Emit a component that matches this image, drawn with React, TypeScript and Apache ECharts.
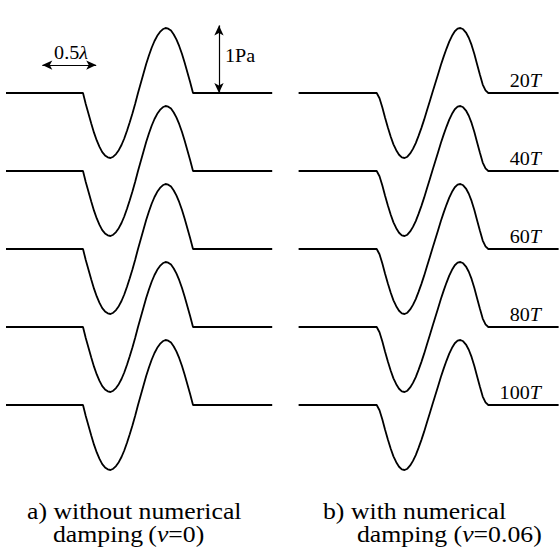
import React, { useEffect, useRef } from "react";
import * as echarts from "echarts";

// Phase positions across one wavelength of the pulse (in units of λ)
const PHASE = [
  0, 0.025, 0.05, 0.075, 0.1, 0.125, 0.15, 0.175, 0.2, 0.225,
  0.25, 0.275, 0.3, 0.325, 0.35, 0.375, 0.4, 0.425, 0.45, 0.475,
  0.5, 0.525, 0.55, 0.575, 0.6, 0.625, 0.65, 0.675, 0.7, 0.725,
  0.75, 0.775, 0.8, 0.825, 0.85, 0.875, 0.9, 0.925, 0.95, 0.975, 1.0,
];

// Pressure (Pa) of the pulse without numerical damping (ν = 0)
const PULSE_UNDAMPED = [
  0, -0.17, -0.32, -0.47, -0.61, -0.73, -0.83, -0.91, -0.96, -0.99,
  -1.0, -0.98, -0.94, -0.88, -0.8, -0.7, -0.58, -0.45, -0.31, -0.16,
  0.0, 0.15, 0.3, 0.45, 0.58, 0.7, 0.8, 0.88, 0.94, 0.98,
  1.0, 0.99, 0.96, 0.9, 0.82, 0.72, 0.6, 0.46, 0.31, 0.16, 0,
];

// Pressure (Pa) of the pulse with numerical damping (ν = 0.06)
const PULSE_DAMPED = [
  0, -0.08, -0.22, -0.38, -0.53, -0.67, -0.79, -0.88, -0.95, -0.99,
  -1.0, -0.98, -0.93, -0.86, -0.77, -0.66, -0.54, -0.41, -0.27, -0.13,
  0.01, 0.15, 0.29, 0.43, 0.56, 0.68, 0.79, 0.88, 0.95, 0.99,
  1.0, 0.98, 0.93, 0.85, 0.74, 0.6, 0.44, 0.28, 0.13, 0.04, 0,
];

// Snapshot times, one row each
const TIMES = ["20", "40", "60", "80", "100"];

// Extent of the undisturbed medium on each side (λ)
const LEFT_RANGE = [-0.7, 1.72];
const RIGHT_RANGE = [-0.7, 1.63];

const ROW_GAP = 1.2; // Pa between stacked rows
const FONT = "Liberation Serif";

function rowData(pulse: number[], range: number[], k: number) {
  const off = -k * ROW_GAP;
  const pts: number[][] = [[range[0], off]];
  PHASE.forEach((p, i) => pts.push([p, pulse[i] + off]));
  pts.push([range[1], off]);
  return pts;
}

export default function App() {
  const ref = useRef<HTMLDivElement>(null);

  useEffect(() => {
    if (!ref.current) return;
    const chart = echarts.init(ref.current, null, { renderer: "svg" });

    const lineStyle = { color: "#000", width: 1.8 };
    const series: any[] = [];
    TIMES.forEach((_, k) => {
      const s: any = {
        type: "line",
        xAxisIndex: 0,
        yAxisIndex: 0,
        data: rowData(PULSE_UNDAMPED, LEFT_RANGE, k),
        showSymbol: false,
        symbol: "none",
        lineStyle,
        clip: false,
        silent: true,
      };
      if (k === 0) {
        s.markLine = {
          silent: true,
          symbol: ["arrow", "arrow"],
          symbolSize: [7, 10],
          label: { show: false },
          lineStyle: { color: "#000", width: 1.2, type: "solid" },
          data: [
            [{ coord: [-0.37, 0.43] }, { coord: [0.12, 0.43] }],
            [{ coord: [1.236, 0.0] }, { coord: [1.236, 1.04] }],
          ],
        };
      }
      series.push(s);
      series.push({
        type: "line",
        xAxisIndex: 1,
        yAxisIndex: 1,
        data: rowData(PULSE_DAMPED, RIGHT_RANGE, k),
        showSymbol: false,
        symbol: "none",
        lineStyle,
        clip: false,
        silent: true,
      });
    });

    const hiddenAxis = {
      type: "value",
      show: false,
      splitLine: { show: false },
    };

    chart.setOption({
      animation: false,
      backgroundColor: "#fff",
      textStyle: { fontFamily: FONT },
      grid: [
        { left: 6, top: 21.5, width: 266.2, height: 455 },
        { left: 298.6, top: 21.5, width: 260, height: 455 },
      ],
      xAxis: [
        { ...hiddenAxis, gridIndex: 0, min: LEFT_RANGE[0], max: LEFT_RANGE[1] },
        { ...hiddenAxis, gridIndex: 1, min: RIGHT_RANGE[0], max: RIGHT_RANGE[1] },
      ],
      yAxis: [
        { ...hiddenAxis, gridIndex: 0, min: -5.9, max: 1.1 },
        { ...hiddenAxis, gridIndex: 1, min: -5.9, max: 1.1 },
      ],
      series,
    });

    const labelRich = {
      n: { fontFamily: FONT, fontSize: 19, fill: "#000" },
      i: { fontFamily: FONT, fontSize: 19, fontStyle: "italic", fill: "#000" },
    };

    // Time labels above the right end of each damped row
    const timeLabels = TIMES.map((t, k) => {
      const [px, py] = chart.convertToPixel({ gridIndex: 1 } as any, [1.472, -k * ROW_GAP]) as number[];
      return {
        type: "text",
        x: px,
        y: py - 3,
        scaleX: 1.06,
        style: {
          text: `{n|${t}}{i|T}`,
          fontFamily: FONT,
          align: "right",
          verticalAlign: "bottom",
          fill: "#000",
          rich: labelRich,
        },
      };
    });

    const capRich = {
      n: { fontFamily: FONT, fontSize: 23, lineHeight: 22, fill: "#000" },
      i: { fontFamily: FONT, fontSize: 23, lineHeight: 22, fontStyle: "italic", fill: "#000" },
    };
    const caption = (text: string, x: number, y: number) => ({
      type: "text",
      x,
      y,
      scaleX: 1.12,
      style: { text, fontFamily: FONT, verticalAlign: "middle", rich: capRich },
    });

    chart.setOption({
      graphic: [
        ...timeLabels,
        {
          type: "text",
          x: 71,
          y: 53,
          scaleX: 1.06,
          style: {
            text: "{n|0.5}{i|λ}",
            fontFamily: FONT,
            align: "center",
            verticalAlign: "middle",
            rich: labelRich,
          },
        },
        {
          type: "text",
          x: 225,
          y: 56,
          scaleX: 1.06,
          style: {
            text: "1Pa",
            fontFamily: FONT,
            fontSize: 19,
            fill: "#000",
            align: "left",
            verticalAlign: "middle",
          },
        },
        caption("{n|a) without numerical}", 27, 511),
        caption("{n|damping\u2009(}{i|ν}{n|=0)}", 53, 534),
        caption("{n|b) with numerical}", 323, 511),
        caption("{n|damping (}{i|ν}{n|=0.06)}", 357, 534),
      ],
    });

    return () => chart.dispose();
  }, []);

  return (
    <div
      ref={ref}
      style={{ position: "absolute", left: 0, top: 0, width: 559, height: 555, background: "#fff" }}
    />
  );
}
